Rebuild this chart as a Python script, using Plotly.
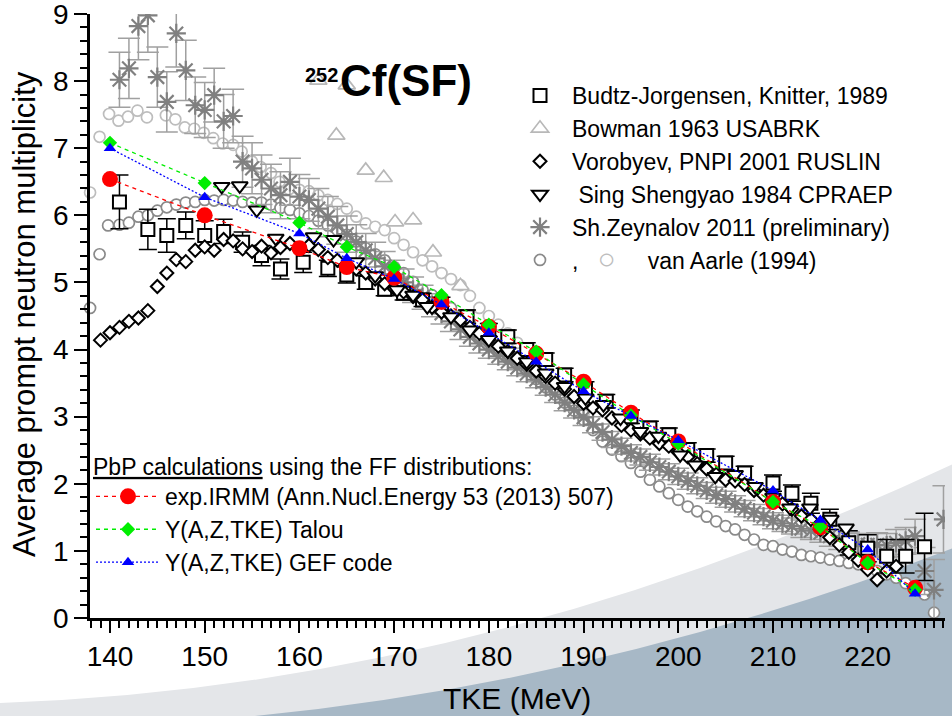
import plotly.graph_objects as go

# ---------------- data ----------------
pbp_tke = [140, 150, 160, 165, 170, 175, 180, 185, 190, 195, 200, 210, 215, 220, 225]
pbp_irmm = [6.54, 6.00, 5.51, 5.23, 5.07, 4.71, 4.34, 3.94, 3.52, 3.06, 2.63, 1.73, 1.35, 0.83, 0.45]
pbp_talou = [7.08, 6.48, 5.89, 5.53, 5.23, 4.81, 4.37, 3.97, 3.48, 3.02, 2.60, 1.73, 1.36, 0.82, 0.42]
pbp_gef = [7.00, 6.27, 5.73, 5.36, 5.05, 4.67, 4.25, 3.82, 3.38, 3.01, 2.65, 1.90, 1.46, 1.02, 0.36]

budtz_tke = [141, 144, 146, 148, 150, 152, 154, 156, 158, 160.4, 163, 165, 167, 169, 171, 173, 175,
             177.7, 180, 182, 184, 186, 188, 190.2, 192.4, 195, 197, 199, 201, 203, 205, 207, 210,
             212, 214, 216, 218, 220, 222, 224, 226]
budtz_nu = [6.20, 5.79, 5.70, 5.85, 5.70, 5.76, 5.60, 5.40, 5.20, 5.30, 5.21, 5.11, 5.00, 4.90, 4.84,
            4.74, 4.68, 4.49, 4.29, 4.19, 4.00, 3.85, 3.62, 3.42, 3.23, 3.00, 2.83, 2.73, 2.51, 2.42,
            2.31, 2.16, 2.01, 1.86, 1.71, 1.47, 1.12, 1.04, 0.92, 0.92, 1.06]
budtz_err = [0.40, 0.30, 0.25, 0.20, 0.22, 0.18, 0.15, 0.15, 0.15, 0.15, 0.12, 0.12, 0.10, 0.10, 0.10,
             0.10, 0.10, 0.10, 0.10, 0.10, 0.10, 0.10, 0.10, 0.10, 0.10, 0.10, 0.10, 0.10, 0.10, 0.10,
             0.10, 0.10, 0.12, 0.12, 0.15, 0.15, 0.18, 0.20, 0.25, 0.25, 0.50]

bowman_tke = [162.0, 163.9, 165.0, 167.0, 168.9, 170.1, 172.0, 174.1, 177.0]
bowman_nu = [8.01, 7.19, 7.94, 6.67, 6.56, 5.90, 5.93, 5.45, 4.95]

vorobyev_tke = [139, 140, 141, 142, 143, 144, 145, 146, 147, 148, 149, 150, 151, 152, 153, 154, 155,
                156, 157, 158, 159, 160, 161, 162, 163, 164, 165, 166, 167, 168, 169, 170, 171, 172,
                173, 174, 175, 176, 177, 178, 179, 180, 181, 182, 183, 184, 185, 186, 187, 188, 189,
                190, 191, 192, 193, 194, 195, 196, 197, 198, 199, 200, 201, 202, 203, 204, 205, 206,
                207, 208, 209, 210, 211, 212, 213, 214, 215, 216, 217, 218, 219, 220, 221, 222, 223]
vorobyev_nu = [4.14, 4.25, 4.33, 4.42, 4.47, 4.58, 4.94, 5.14, 5.34, 5.31, 5.48, 5.53, 5.48, 5.64, 5.62,
               5.50, 5.46, 5.54, 5.44, 5.52, 5.58, 5.50, 5.55, 5.49, 5.37, 5.33, 5.26, 5.20, 5.14, 5.05,
               4.98, 4.91, 4.86, 4.79, 4.74, 4.63, 4.56, 4.50, 4.44, 4.33, 4.24, 4.15, 4.05, 3.97, 3.87,
               3.78, 3.68, 3.60, 3.50, 3.41, 3.30, 3.20, 3.13, 3.10, 2.98, 2.87, 2.80, 2.74, 2.68, 2.60,
               2.56, 2.47, 2.40, 2.30, 2.22, 2.14, 2.06, 2.04, 1.99, 1.90, 1.83, 1.76, 1.70, 1.62, 1.52,
               1.47, 1.32, 1.20, 1.09, 0.98, 0.86, 0.72, 0.57, 0.70, 0.77]

sing_tke = [151.8, 153.7, 155.5, 157.5, 161.5, 163.6, 166.0, 168.0, 170.3, 172.0, 173.5, 176.0, 178.0,
            180.0, 182.0, 184.0, 186.0, 188.0, 190.2, 192.1, 193.9, 196.0, 197.9, 200.2, 201.8, 203.9,
            206.0, 208.1, 210.0, 211.8, 213.9, 216.1, 217.7]
sing_nu = [6.43, 6.44, 6.08, 5.66, 5.68, 5.64, 5.31, 5.10, 4.89, 4.81, 4.64, 4.49, 4.29, 4.15, 3.98,
           3.82, 3.65, 3.45, 3.28, 3.18, 2.98, 2.78, 2.71, 2.43, 2.28, 2.11, 2.14, 1.96, 1.80, 1.64,
           1.64, 1.47, 1.34]

zeyn_tke = [141, 142, 143, 144, 145, 146, 147, 148, 149, 150, 151, 152, 153, 154, 155, 156, 157, 158,
            159, 160, 161, 162, 163, 164, 165, 166, 167, 168, 169, 170, 171, 172, 173, 174, 175, 176,
            177, 178, 179, 180, 181, 182, 183, 184, 185, 186, 187, 188, 189, 190, 191, 192, 193, 194,
            195, 196, 197, 198, 199, 200, 201, 202, 203, 204, 205, 206, 207, 208, 209, 210, 211, 212,
            213, 214, 215, 216, 217, 218, 219, 220, 221, 222, 223, 224, 225, 226, 227, 228]
zeyn_nu = [8.02, 8.19, 8.82, 8.98, 8.06, 7.69, 8.71, 8.16, 7.64, 7.57, 7.79, 7.40, 7.48, 6.80, 6.70,
           6.53, 6.40, 6.30, 6.50, 6.28, 6.23, 6.10, 5.98, 5.85, 5.72, 5.60, 5.48, 5.36, 5.24, 5.12,
           5.00, 4.89, 4.78, 4.66, 4.54, 4.42, 4.30, 4.19, 4.09, 4.00, 3.90, 3.82, 3.73, 3.64, 3.55,
           3.44, 3.33, 3.21, 3.10, 2.99, 2.88, 2.77, 2.66, 2.56, 2.46, 2.40, 2.32, 2.25, 2.18, 2.11,
           2.04, 1.97, 1.90, 1.83, 1.77, 1.70, 1.63, 1.57, 1.51, 1.45, 1.41, 1.37, 1.33, 1.30, 1.27,
           1.22, 1.17, 1.13, 1.10, 1.09, 1.09, 1.08, 1.12, 1.15, 1.22, 0.70, 0.42, 1.47]
zeyn_err = [0.41, 0.45, 0.50, 0.55, 0.45, 0.45, 0.50, 0.45, 0.42, 0.41, 0.40, 0.40, 0.40, 0.38, 0.38,
            0.37, 0.36, 0.35, 0.35, 0.33, 0.32, 0.30, 0.30, 0.28, 0.27, 0.26, 0.25, 0.24, 0.22, 0.21,
            0.20, 0.19, 0.18, 0.17, 0.16, 0.15, 0.15, 0.14, 0.14, 0.13, 0.12, 0.12, 0.12, 0.12, 0.12,
            0.12, 0.12, 0.12, 0.12, 0.12, 0.12, 0.12, 0.12, 0.12, 0.12, 0.12, 0.12, 0.12, 0.12, 0.12,
            0.12, 0.12, 0.12, 0.12, 0.12, 0.12, 0.12, 0.12, 0.12, 0.12, 0.12, 0.12, 0.13, 0.13, 0.14,
            0.15, 0.15, 0.15, 0.16, 0.16, 0.18, 0.18, 0.20, 0.20, 0.25, 0.35, 0.45, 0.50]

aarle1_tke = [137.9, 138.9, 139.8, 141, 142, 143, 144, 145, 146, 147, 148, 149, 150, 151, 152, 153,
              154, 155, 156, 157, 158, 159, 160, 161, 162, 163, 164, 165, 166, 167, 168, 169, 170,
              171, 172, 173, 174, 175, 176, 177, 178, 179, 180, 181, 182, 183, 184, 185, 186, 187,
              188, 189, 190, 191, 192, 193, 194, 195, 196, 197, 198, 199, 200, 201, 202, 203, 204,
              205, 206, 207, 208, 209, 210, 211, 212, 213, 214, 215, 216, 217, 218, 219, 220, 221,
              222, 223, 224, 225, 226, 227]
aarle1_nu = [4.62, 5.42, 5.85, 5.86, 5.89, 5.98, 6.00, 6.07, 6.12, 6.16, 6.19, 6.20, 6.23, 6.22, 6.23,
             6.22, 6.20, 6.19, 6.19, 6.16, 6.11, 6.08, 6.03, 5.99, 5.92, 5.85, 5.78, 5.71, 5.61, 5.51,
             5.42, 5.33, 5.23, 5.14, 5.01, 4.89, 4.81, 4.74, 4.62, 4.50, 4.38, 4.26, 4.14, 4.02, 3.90,
             3.80, 3.68, 3.56, 3.44, 3.33, 3.21, 3.09, 2.95, 2.80, 2.63, 2.51, 2.41, 2.31, 2.18, 2.06,
             1.96, 1.86, 1.76, 1.66, 1.59, 1.51, 1.44, 1.37, 1.32, 1.24, 1.17, 1.09, 1.07, 1.02, 0.99,
             0.94, 0.92, 0.90, 0.87, 0.85, 0.82, 0.80, 0.77, 0.70, 0.65, 0.60, 0.52, 0.45, 0.35, 0.08]

aarle2_tke = [137.9, 138.9, 139.9, 140.9, 141.9, 142.9, 143.9, 145.9, 146.9, 147.9, 148.9, 149.9, 150.9,
              151.9, 153, 153.9, 155, 155.9, 157, 157.9, 158.9, 160, 161, 162, 163, 164, 165, 166, 167,
              168, 169, 170, 171, 172, 173, 174, 175, 176, 177, 178, 179, 180, 181, 182, 183, 184, 185,
              186, 187, 188, 189, 190]
aarle2_nu = [6.34, 7.17, 7.51, 7.41, 7.47, 7.56, 7.46, 7.49, 7.43, 7.31, 7.29, 7.23, 7.15, 7.07, 7.05,
             6.95, 6.80, 6.72, 6.63, 6.50, 6.39, 6.38, 6.36, 6.30, 6.23, 6.17, 6.10, 5.98, 5.88, 5.83,
             5.78, 5.66, 5.56, 5.45, 5.33, 5.24, 5.14, 5.05, 4.96, 4.80, 4.62, 4.50, 4.37, 4.24, 4.10,
             3.95, 3.78, 3.62, 3.48, 3.34, 3.18, 3.03]

x_range = [137.89, 228.16]
y_range = [0, 9]

# ---------------- layout helpers (pixel -> paper) ----------------
W, H = 952, 716
ML, MR, MT, MB = 90, 7, 14, 98
PW, PH = W - ML - MR, H - MT - MB
FONT = "Liberation Sans, Arial, Helvetica, sans-serif"


def fx(px):
    return (px - ML) / PW


def fy(py):
    return (H - MB - py) / PH


NB = "\u00a0"
aarle_label = ("," + NB * 3 + "<span style='color:#bdbdbd;font-size:30px'>\u25CB</span>" + NB * 5
               + "van Aarle (1994)")

fig = go.Figure()

# van Aarle (light and dark circles)
fig.add_trace(go.Scatter(x=aarle2_tke, y=aarle2_nu, mode="markers", showlegend=False,
                         cliponaxis=False,
                         marker=dict(symbol="circle", size=11, color="white",
                                     line=dict(color="#bdbdbd", width=1.7))))
fig.add_trace(go.Scatter(x=aarle1_tke, y=aarle1_nu, mode="markers", legendrank=6,
                         name=aarle_label, cliponaxis=False,
                         marker=dict(symbol="circle", size=11, color="white",
                                     line=dict(color="#8a8a8a", width=1.7))))
# Bowman
fig.add_trace(go.Scatter(x=bowman_tke, y=bowman_nu, mode="markers", name="Bowman 1963 USABRK",
                         legendrank=2,
                         marker=dict(symbol="triangle-up", size=15, color="white",
                                     line=dict(color="#b8b8b8", width=1.7))))
# Zeynalov
fig.add_trace(go.Scatter(x=zeyn_tke, y=zeyn_nu, mode="markers", name="Sh.Zeynalov 2011 (preliminary)",
                         legendrank=5,
                         error_y=dict(type="data", array=zeyn_err, color="#a0a0a0", thickness=1.5, width=11),
                         marker=dict(symbol="asterisk-open", size=16, color="#808080",
                                     line=dict(color="#808080", width=2.2))))
# Budtz-Jorgensen
fig.add_trace(go.Scatter(x=budtz_tke, y=budtz_nu, mode="markers", name="Budtz-Jorgensen, Knitter, 1989",
                         legendrank=1,
                         error_y=dict(type="data", array=budtz_err, color="black", thickness=1.5, width=9),
                         marker=dict(symbol="square", size=13, color="white",
                                     line=dict(color="black", width=2))))
# Vorobyev
fig.add_trace(go.Scatter(x=vorobyev_tke, y=vorobyev_nu, mode="markers", name="Vorobyev, PNPI 2001 RUSLIN",
                         legendrank=3,
                         marker=dict(symbol="diamond", size=10, color="white",
                                     line=dict(color="black", width=2))))
# Sing Shengyao
fig.add_trace(go.Scatter(x=sing_tke, y=sing_nu, mode="markers", name=" Sing Shengyao 1984 CPRAEP",
                         legendrank=4,
                         marker=dict(symbol="triangle-down", size=14, color="white",
                                     line=dict(color="black", width=2))))
# PbP calculations
fig.add_trace(go.Scatter(x=pbp_tke, y=pbp_irmm, mode="lines+markers", legend="legend2", legendrank=1,
                         name="exp.IRMM (Ann.Nucl.Energy 53 (2013) 507)", cliponaxis=False,
                         line=dict(color="#ff0000", width=1.3, dash="4px,4px"),
                         marker=dict(symbol="circle", size=16, color="#ff0000")))
fig.add_trace(go.Scatter(x=pbp_tke, y=pbp_talou, mode="lines+markers", legend="legend2", legendrank=2,
                         name="Y(A,Z,TKE) Talou", cliponaxis=False,
                         line=dict(color="#00ee00", width=1.3, dash="4px,4px"),
                         marker=dict(symbol="diamond", size=11, color="#00ee00")))
fig.add_trace(go.Scatter(x=pbp_tke, y=pbp_gef, mode="lines+markers", legend="legend2", legendrank=3,
                         name="Y(A,Z,TKE) GEF code", cliponaxis=False,
                         line=dict(color="#0000ff", width=1.3, dash="2px,2px"),
                         marker=dict(symbol="triangle-up", size=11, color="#0000ff")))

# background decorative bands
light_path = (f"M {fx(0)},{fy(716)} L {fx(0)},{fy(703)} Q {fx(476)},{fy(687.4)} {fx(952)},{fy(464.5)} "
              f"L {fx(952)},{fy(716)} Z")
blue_path = (f"M {fx(255)},{fy(716)} Q {fx(603.5)},{fy(681.9)} {fx(952)},{fy(548.5)} "
             f"L {fx(952)},{fy(716)} Z")
shapes = [
    dict(type="path", path=light_path, xref="paper", yref="paper", fillcolor="#e4e6e9",
         line=dict(width=0), layer="below"),
    dict(type="path", path=blue_path, xref="paper", yref="paper", fillcolor="#a7b8c6",
         line=dict(width=0), layer="below"),
]

axis_common = dict(showgrid=False, zeroline=False, showline=True, linecolor="black", linewidth=2.5,
                   tickcolor="black", tickwidth=2, automargin=False)

fig.update_layout(
    width=W, height=H,
    margin=dict(l=ML, r=MR, t=MT, b=MB, pad=0, autoexpand=False),
    paper_bgcolor="white", plot_bgcolor="rgba(0,0,0,0)",
    font=dict(family=FONT, color="black"),
    shapes=shapes,
    xaxis=dict(range=x_range, tick0=140, dtick=10, ticks="outside", ticklen=12,
               tickfont=dict(size=28, family=FONT, color="black"), ticklabeloverflow="allow",
               minor=dict(dtick=1, tick0=140, ticks="outside", ticklen=7, tickwidth=1.5,
                          tickcolor="black", showgrid=False),
               **axis_common),
    xaxis2=dict(range=x_range, overlaying="x", side="top", anchor="y", tick0=140, dtick=10,
                ticks="inside", ticklen=12, showticklabels=False,
                minor=dict(dtick=1, tick0=140, ticks="inside", ticklen=6, tickwidth=1.5,
                           tickcolor="black", showgrid=False),
                **axis_common),
    yaxis=dict(range=y_range, tick0=0, dtick=1, ticks="outside", ticklen=13,
               tickfont=dict(size=28, family=FONT, color="black"), ticklabeloverflow="allow",
               minor=dict(dtick=0.2, tick0=0, ticks="outside", ticklen=7, tickwidth=1.5,
                          tickcolor="black", showgrid=False),
               **axis_common),
    yaxis2=dict(range=y_range, overlaying="y", side="right", anchor="x", tick0=0, dtick=1,
                ticks="inside", ticklen=12, showticklabels=False,
                minor=dict(dtick=0.2, tick0=0, ticks="inside", ticklen=6, tickwidth=1.5,
                           tickcolor="black", showgrid=False),
                **axis_common),
    legend=dict(x=fx(508), y=fy(74), xanchor="left", yanchor="top", bgcolor="rgba(0,0,0,0)",
                borderwidth=0, itemwidth=54, font=dict(family=FONT, size=23, color="black"),
                traceorder="normal", itemclick=False),
    legend2=dict(x=fx(91), y=fy(445), xanchor="left", yanchor="top", bgcolor="rgba(0,0,0,0)",
                 borderwidth=0, itemwidth=64, font=dict(family=FONT, size=23, color="black"),
                 title=dict(text="<u>PbP calculations</u> using the FF distributions:",
                            font=dict(family=FONT, size=23, color="black")),
                 traceorder="normal"),
    annotations=[
        dict(text="TKE (MeV)", x=fx(517), y=fy(698), xref="paper", yref="paper", showarrow=False,
             xanchor="center", yanchor="middle", font=dict(family=FONT, size=30, color="black")),
        dict(text="Average prompt neutron multiplicity", x=fx(24), y=fy(314), xref="paper",
             yref="paper", showarrow=False, textangle=-90, xanchor="center", yanchor="middle",
             font=dict(family=FONT, size=31, color="black")),
        dict(text="<b>Cf(SF)</b>", x=fx(406), y=fy(81), xref="paper", yref="paper", showarrow=False,
             xanchor="center", yanchor="middle", font=dict(family=FONT, size=44, color="black")),
        dict(text="<b>252</b>", x=fx(321), y=fy(75), xref="paper", yref="paper", showarrow=False,
             xanchor="center", yanchor="middle", font=dict(family=FONT, size=20, color="black")),
    ],
)

fig.write_html("out.html")
